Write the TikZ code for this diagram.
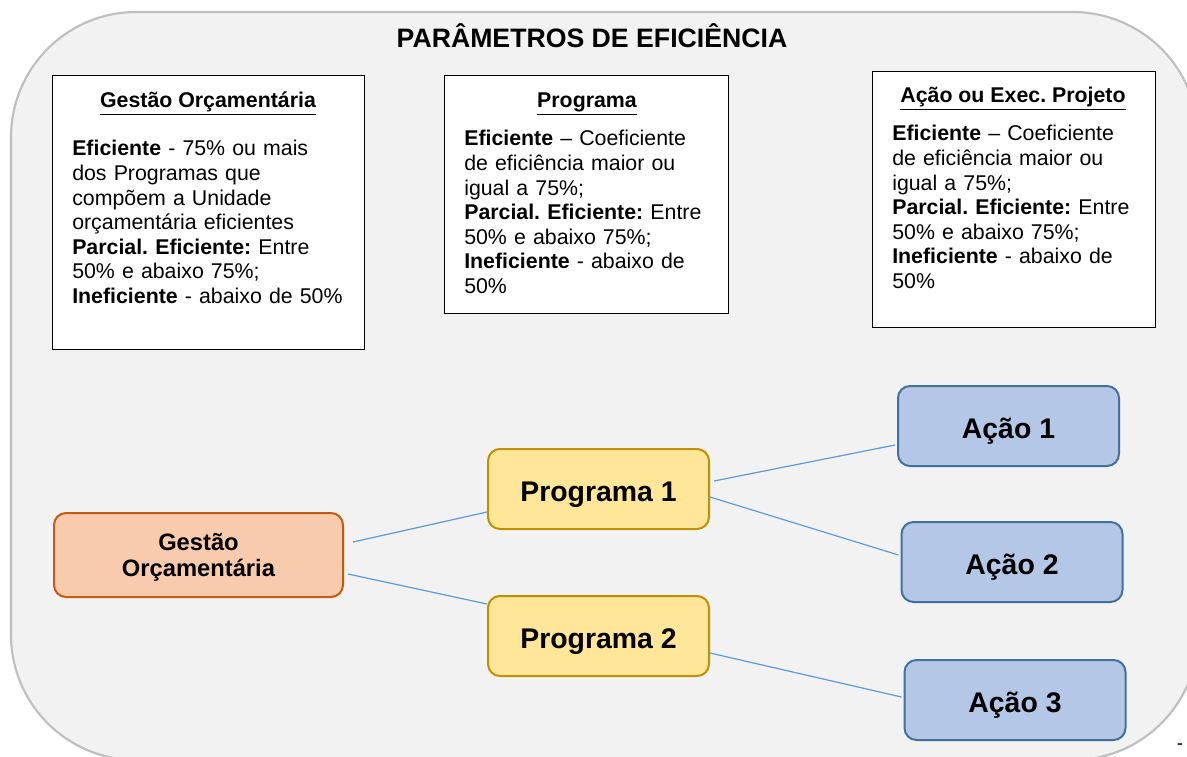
\documentclass[tikz,border=0pt]{standalone}
\usepackage{fontspec}
\setmainfont{Liberation Sans}
\frenchspacing
\usetikzlibrary{calc}
\definecolor{paper}{HTML}{F2F2F2}
\definecolor{paperline}{HTML}{BFBFBF}
\definecolor{unitfill}{HTML}{F8CBAD}
\definecolor{unitline}{HTML}{C55A11}
\definecolor{progfill}{HTML}{FFE699}
\definecolor{progline}{HTML}{BF9000}
\definecolor{acaofill}{HTML}{B4C7E7}
\definecolor{acaoline}{HTML}{41719C}
\definecolor{linkblue}{HTML}{5B9BD5}
\tikzset{
  infobox/.style={draw=black, line width=1.1pt, fill=white, inner sep=0pt, anchor=north west},
  boxtitle/.style={inner sep=0pt, anchor=base, font=\fontsize{16}{18.4}\selectfont\bfseries},
  boxtext/.style={inner sep=0pt, anchor=base west, align=left, font=\fontsize{16}{18.4}\selectfont},
  level/.style={rounded corners=9pt, line width=1.5pt, inner sep=0pt, text depth=0pt, minimum width=165.75pt, minimum height=60pt, align=center, font=\fontsize{21.3}{25}\selectfont\bfseries},
  unit/.style={level, fill=unitfill, draw=unitline, minimum width=216.75pt, minimum height=63pt, font=\fontsize{17.8}{19.5}\selectfont\bfseries},
  prog/.style={level, text height=18pt, fill=progfill, draw=progline},
  acao/.style={level, text height=18pt, fill=acaofill, draw=acaoline},
  link/.style={draw=linkblue, line width=0.9pt}
}
\begin{document}
\begin{tikzpicture}[x=0.75pt, y=-0.75pt]
  \useasboundingbox (0,0) rectangle (1187,756);
  \clip (0,0) rectangle (1187,756);
  \draw [fill=paper, draw=paperline, line width=1.6pt, rounded corners=94pt] (11,12) rectangle (1198,760);

  \node (title) [anchor=base, inner sep=0pt, font=\fontsize{20}{24}\selectfont\bfseries] at (592,48) {PARÂMETROS DE EFICIÊNCIA};

  %--------------------------------------------------------------
  \node (gobox) [infobox, minimum width=234pt, minimum height=205.5pt] at (52,75) {};
  \node (gotitle) [boxtitle] at (208,108) {\underline{Gestão Orçamentária}};
  \node (gotext) [boxtext, text width=215pt] at (72,156) {\textbf{Eficiente} - 75\% ou mais\\
    dos Programas que\\
    compõem a Unidade\\
    orçamentária eficientes\\
    \textbf{Parcial. Eficiente:} Entre\\
    50\% e abaixo 75\%;\\
    \textbf{Ineficiente} - abaixo de 50\%};

  \node (pgbox) [infobox, minimum width=213pt, minimum height=178.5pt] at (444,75) {};
  \node (pgtitle) [boxtitle] at (587,108) {\underline{Programa}};
  \node (pgtext) [boxtext, text width=195pt] at (464,146) {\textbf{Eficiente} -- Coeficiente\\
    de eficiência maior ou\\
    igual a 75\%;\\
    \textbf{Parcial. Eficiente:} Entre\\
    50\% e abaixo 75\%;\\
    \textbf{Ineficiente} - abaixo de\\
    50\%};

  \node (acbox) [infobox, minimum width=212.25pt, minimum height=192pt] at (872,71) {};
  \node (actitle) [boxtitle] at (1013,103) {\underline{Ação ou Exec. Projeto}};
  \node (actext) [boxtext, text width=195pt] at (892,141) {\textbf{Eficiente} -- Coeficiente\\
    de eficiência maior ou\\
    igual a 75\%;\\
    \textbf{Parcial. Eficiente:} Entre\\
    50\% e abaixo 75\%;\\
    \textbf{Ineficiente} - abaixo de\\
    50\%};

  %--------------------------------------------------------------
  \node (gestao) [unit] at (198.5,555) {Gestão\\Orçamentária};
  \node (prog1) [prog] at (598.5,489) {Programa 1};
  \node (prog2) [prog] at (598.5,636) {Programa 2};
  \node (acao1) [acao] at (1008.5,426) {Ação 1};
  \node (acao2) [acao] at (1012,562) {Ação 2};
  \node (acao3) [acao] at (1015,700) {Ação 3};

  \draw [link] ($(gestao.east)+(9,-13)$) -- ($(prog1.west)+(0,23)$);
  \draw [link] ($(gestao.east)+(4,19)$) -- ($(prog2.west)+(0,-32)$);
  \draw [link] ($(prog1.east)+(4,-8)$) -- ($(acao1.west)+(-2,19)$);
  \draw [link] ($(prog1.east)+(0,8)$) -- ($(acao2.west)+(-2,-7)$);
  \draw [link] ($(prog2.east)+(0,17)$) -- ($(acao3.west)+(-2,-3)$);

  \node (dash) [inner sep=0pt, font=\fontsize{14}{16}\selectfont] at (1180,747) {-};
\end{tikzpicture}
\end{document}
